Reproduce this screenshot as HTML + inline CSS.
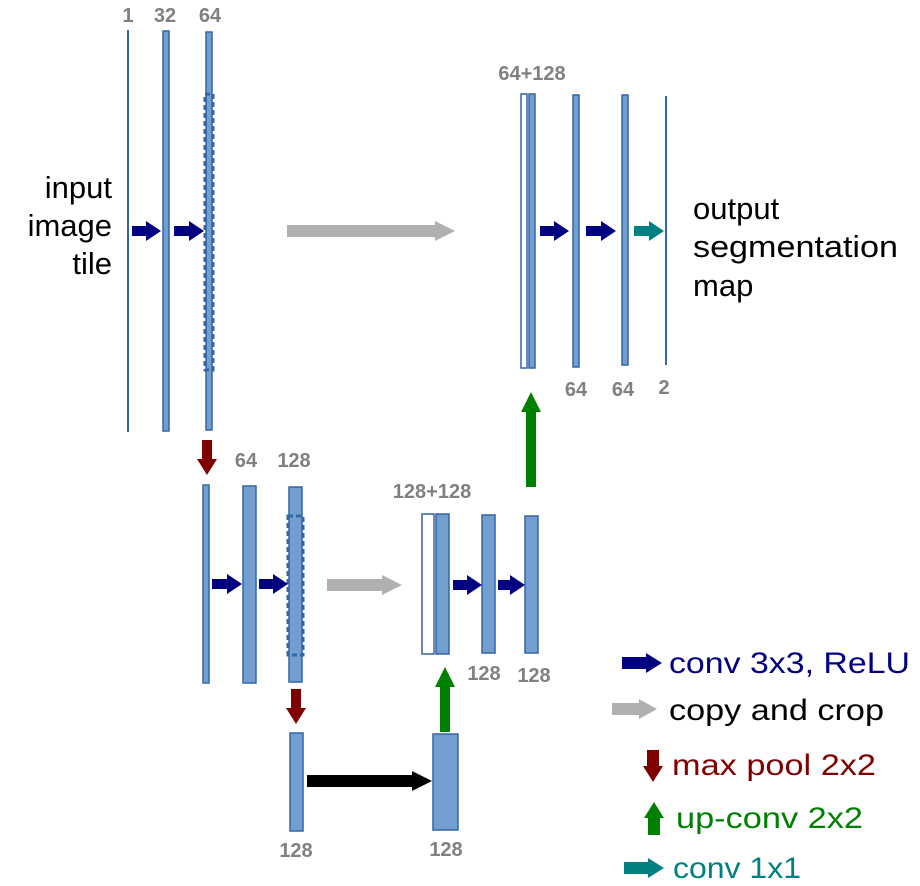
<!DOCTYPE html>
<html><head><meta charset="utf-8"><style>
html,body{margin:0;padding:0;background:#fff;}
svg{display:block;font-family:"Liberation Sans",sans-serif;}
.lbl{font-weight:bold;font-size:20px;fill:#808080;text-anchor:middle;}
.big{font-size:31px;fill:#000;}
.leg{font-size:30px;}
.bar{fill:#729fcf;stroke:#3465a4;stroke-width:1.5;}
.wbar{fill:#fff;stroke:#3465a4;stroke-width:1.5;}
.dash{fill:none;stroke:#3465a4;stroke-width:3;stroke-dasharray:5,3;}
</style></head><body>
<svg id="s" width="920" height="886" viewBox="0 0 920 886">
<g>
<rect x="127" y="30" width="2" height="402" fill="#3465a4"/>
<rect class="bar" x="163" y="31" width="6" height="400"/>
<rect class="bar" x="206" y="32" width="6" height="398"/>
<rect class="dash" x="205" y="94" width="8" height="276"/>
<text class="lbl" x="128" y="22">1</text>
<text class="lbl" x="165" y="22">32</text>
<text class="lbl" x="210" y="22">64</text>
<text class="big" text-anchor="end"><tspan x="112" y="198">input</tspan><tspan x="112" y="236">image</tspan><tspan x="112" y="274">tile</tspan></text>
</g>
<g>
<rect class="wbar" x="521" y="94" width="6" height="274"/>
<rect class="bar" x="529" y="94" width="6" height="274"/>
<rect class="bar" x="573" y="95" width="6" height="272"/>
<rect class="bar" x="622" y="95" width="6" height="270"/>
<rect x="665" y="96" width="2" height="269" fill="#3465a4"/>
<text class="lbl" x="532" y="80">64+128</text>
<text class="lbl" x="576" y="396">64</text>
<text class="lbl" x="623" y="396">64</text>
<text class="lbl" x="664" y="394">2</text>
<text class="big"><tspan x="693" y="219">output</tspan><tspan x="693" y="257" textLength="205" lengthAdjust="spacingAndGlyphs">segmentation</tspan><tspan x="693" y="296">map</tspan></text>
</g>
<g>
<rect class="bar" x="203" y="485" width="6" height="198"/>
<rect class="bar" x="243" y="486" width="13" height="197"/>
<rect class="bar" x="289" y="487" width="13" height="195"/>
<rect class="dash" x="288" y="516" width="15" height="139"/>
<text class="lbl" x="246" y="467">64</text>
<text class="lbl" x="294" y="467">128</text>
</g>
<g>
<rect class="wbar" x="422" y="514" width="12" height="140"/>
<rect class="bar" x="436" y="514" width="13" height="140"/>
<rect class="bar" x="482" y="515" width="13" height="138"/>
<rect class="bar" x="525" y="516" width="13" height="137"/>
<text class="lbl" x="432" y="498">128+128</text>
<text class="lbl" x="484" y="680">128</text>
<text class="lbl" x="534" y="682">128</text>
</g>
<g>
<rect class="bar" x="290" y="733" width="13" height="98"/>
<rect class="bar" x="433" y="734" width="25" height="96"/>
<text class="lbl" x="296" y="857">128</text>
<text class="lbl" x="446" y="856">128</text>
</g>
<g>
<text class="leg" x="669" y="673" fill="#000080" textLength="241" lengthAdjust="spacingAndGlyphs">conv 3x3, ReLU</text>
<text class="leg" x="669" y="720" fill="#000" textLength="215" lengthAdjust="spacingAndGlyphs">copy and crop</text>
<text class="leg" x="672" y="775" fill="#800000" textLength="204" lengthAdjust="spacingAndGlyphs">max pool 2x2</text>
<text class="leg" x="676" y="828" fill="#008000" textLength="187" lengthAdjust="spacingAndGlyphs">up-conv 2x2</text>
<text class="leg" x="673" y="878" fill="#008080" textLength="128" lengthAdjust="spacingAndGlyphs">conv 1x1</text>
</g>
<g id="arrows"></g>
</svg>
<script>
var NAVY="#000080",GRAY="#b0b0b0",RED="#800000",GREEN="#008000",TEAL="#008080",BLACK="#000";
// [x1,y1,x2,y2,shaftHalf,headHalf,headLen,color,name]
var arrowList=[
[132,231,161,231,5,10,15,NAVY,"conv-arrow-1"],
[174,231,204,231,5,10,15,NAVY,"conv-arrow-2"],
[287,231,455,231,6,10,20,GRAY,"copy-arrow-1"],
[540,231,569,231,5,10,15,NAVY,"conv-arrow-5"],
[586,231,616,231,5,10,15,NAVY,"conv-arrow-6"],
[634,231,664,231,5,10,15,TEAL,"conv1x1-arrow"],
[531,487,531,392,5,10,20,GREEN,"upconv-arrow-1"],
[207,440,207,475,5,10,16,RED,"maxpool-arrow-1"],
[212,584,242,584,5,10,15,NAVY,"conv-arrow-3"],
[259,584,288,584,5,10,15,NAVY,"conv-arrow-4"],
[327,585,402,585,6,10,20,GRAY,"copy-arrow-2"],
[453,585,482,585,5,10,15,NAVY,"conv-arrow-7"],
[498,585,525,585,5,10,15,NAVY,"conv-arrow-8"],
[445,732,445,667,5,10,20,GREEN,"upconv-arrow-2"],
[296,689,296,724,5,10,16,RED,"maxpool-arrow-2"],
[307,781,432,781,6,10,20,BLACK,"bottleneck-conv-arrow"],
[622,663,662,663,6,10,16,NAVY,"legend-conv3x3-arrow"],
[612,709,657,709,6,10,18,GRAY,"legend-copy-arrow"],
[653,750,653,782,6,10,16,RED,"legend-maxpool-arrow"],
[654,835,654,802,6,10,16,GREEN,"legend-upconv-arrow"],
[624,868,664,868,6,10,16,TEAL,"legend-conv1x1-arrow"]
];
var g=document.getElementById("arrows");
arrowList.forEach(function(a){
  var x1=a[0],y1=a[1],x2=a[2],y2=a[3],s=a[4],w=a[5],h=a[6];
  var dx=x2-x1,dy=y2-y1,L=Math.sqrt(dx*dx+dy*dy),ux=dx/L,uy=dy/L,px=-uy,py=ux;
  var bx=x2-ux*h,by=y2-uy*h;
  var pts=[[x1+px*s,y1+py*s],[bx+px*s,by+py*s],[bx+px*w,by+py*w],[x2,y2],[bx-px*w,by-py*w],[bx-px*s,by-py*s],[x1-px*s,y1-py*s]];
  var p=document.createElementNS("http://www.w3.org/2000/svg","polygon");
  p.setAttribute("points",pts.map(function(q){return q[0].toFixed(1)+","+q[1].toFixed(1);}).join(" "));
  p.setAttribute("fill",a[7]);
  
  
  g.appendChild(p);
});
</script>
</body></html>
